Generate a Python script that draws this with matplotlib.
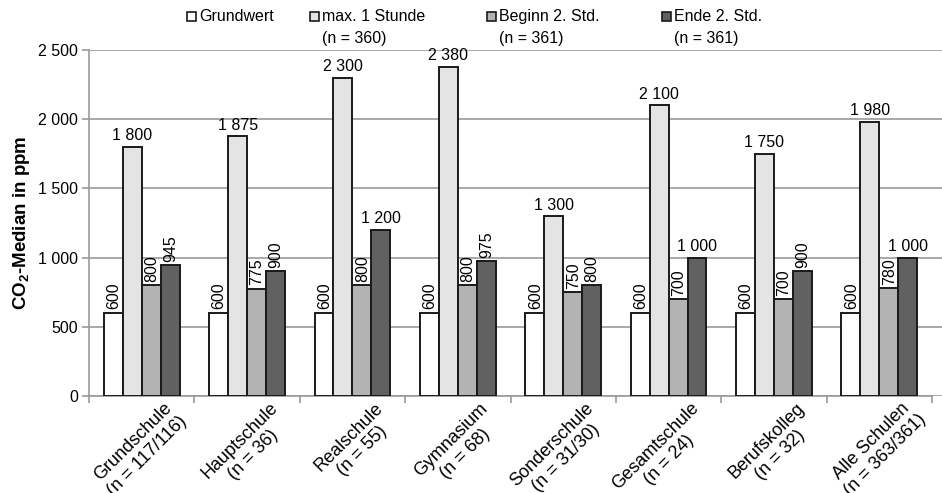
import matplotlib
matplotlib.use('Agg')
import matplotlib.pyplot as plt
from matplotlib.patches import Rectangle
import numpy as np

plt.rcParams['font.family'] = ['Liberation Sans', 'DejaVu Sans']
plt.rcParams['mathtext.fontset'] = 'custom'
plt.rcParams['mathtext.rm'] = 'Liberation Sans'
plt.rcParams['mathtext.bf'] = 'Liberation Sans:bold'

schools = ['Grundschule', 'Hauptschule', 'Realschule', 'Gymnasium', 'Sonderschule',
           'Gesamtschule', 'Berufskolleg', 'Alle Schulen']
school_n = ['(n = 117/116)', '(n = 36)', '(n = 55)', '(n = 68)', '(n = 31/30)',
            '(n = 24)', '(n = 32)', '(n = 363/361)']
grundwert = [600, 600, 600, 600, 600, 600, 600, 600]
max_1h = [1800, 1875, 2300, 2380, 1300, 2100, 1750, 1980]
beginn_2 = [800, 775, 800, 800, 750, 700, 700, 780]
ende_2 = [945, 900, 1200, 975, 800, 1000, 900, 1000]

series = [grundwert, max_1h, beginn_2, ende_2]
legend_labels = ['Grundwert', 'max. 1 Stunde\n(n = 360)', 'Beginn 2. Std.\n(n = 361)', 'Ende 2. Std.\n(n = 361)']
colors = ['#ffffff', '#e4e4e4', '#b3b3b3', '#616161']
grey = '#9a9a9a'
fs = 11.5
fs_cat = 13


def fmt(v):
    return f'{v:,}'.replace(',', ' ')


fig = plt.figure(figsize=(9.42, 4.93), dpi=100)
ax = fig.add_axes([0.0945, 0.197, 0.9055, 0.7016])

x = np.arange(len(schools))
w = 0.18
for i, vals in enumerate(series):
    pos = x + (i - 1.5) * w
    ax.bar(pos, vals, width=w, color=colors[i], edgecolor='#1a1a1a', linewidth=1.4, zorder=3)
    for px, v in zip(pos, vals):
        if v >= 1000:
            ax.text(px, v + 25, fmt(v), ha='center', va='bottom', fontsize=fs, zorder=4)
        else:
            ax.text(px + 0.005, v + 25, fmt(v), ha='center', va='bottom', rotation=90,
                    fontsize=fs, zorder=4)

# gridlines run on a little past the last category
ax.set_xlim(-0.5, len(schools) - 0.5 + 0.095)
ax.set_ylim(0, 2500)
ax.set_yticks(np.arange(0, 2501, 500))
ax.set_yticklabels([fmt(v) for v in range(0, 2501, 500)], fontsize=fs)
ax.yaxis.grid(True, color=grey, linewidth=1.2, zorder=0)

ax.set_xticks(x)
ax.set_xticklabels([])
ax.set_xticks(np.arange(-0.5, len(schools), 1), minor=True)
ax.tick_params(axis='x', which='major', length=0)
ax.tick_params(axis='x', which='minor', length=5, color=grey, width=1.2)
ax.tick_params(axis='y', length=5, color=grey, width=1.2, pad=3)

for side in ['top', 'right']:
    ax.spines[side].set_visible(False)
for side in ['left', 'bottom']:
    ax.spines[side].set_color(grey)
    ax.spines[side].set_linewidth(1.2)
ax.spines['bottom'].set_bounds(-0.5, len(schools) - 0.5)

ax.set_ylabel(r'CO$_\mathbf{2}$-Median in ppm', fontsize=13.5, fontweight='bold', labelpad=4)

# category labels: two centred lines at 45 degrees, first line ending
# a little right of and below the group centre
renderer = fig.canvas.get_renderer()
d = np.array([np.cos(np.pi / 4), np.sin(np.pi / 4)])
down = np.array([np.sin(np.pi / 4), -np.cos(np.pi / 4)])
line_h = fs_cat * 1.2 * 100 / 72
end = np.array([27.0, -9.0])
for i, (name, n) in enumerate(zip(schools, school_n)):
    probe = fig.text(0, 0, name, fontsize=fs_cat)
    l1 = probe.get_window_extent(renderer).width
    probe.remove()
    c = end - d * l1 / 2 + down * line_h / 2
    ax.annotate(name + '\n' + n, xy=(i, 0), xycoords=('data', 'axes fraction'),
                xytext=(c[0], c[1]), textcoords='offset pixels',
                rotation=45, rotation_mode='anchor', ha='center', va='center',
                multialignment='center', fontsize=fs_cat, annotation_clip=False)

# legend drawn by hand so the box sits beside the first text line
leg_x = [0.199, 0.329, 0.517, 0.703]
for lx, lab, c in zip(leg_x, legend_labels, colors):
    fig.patches.append(Rectangle((lx, 0.957), 0.0095, 0.018, transform=fig.transFigure,
                                 facecolor=c, edgecolor='#1a1a1a', linewidth=1.2))
    lines = lab.split('\n')
    fig.text(lx + 0.013, 0.967, lines[0], fontsize=fs, va='center', ha='left')
    if len(lines) > 1:
        fig.text(lx + 0.013, 0.921, lines[1], fontsize=fs, va='center', ha='left')

fig.savefig('out.png', dpi=100)
